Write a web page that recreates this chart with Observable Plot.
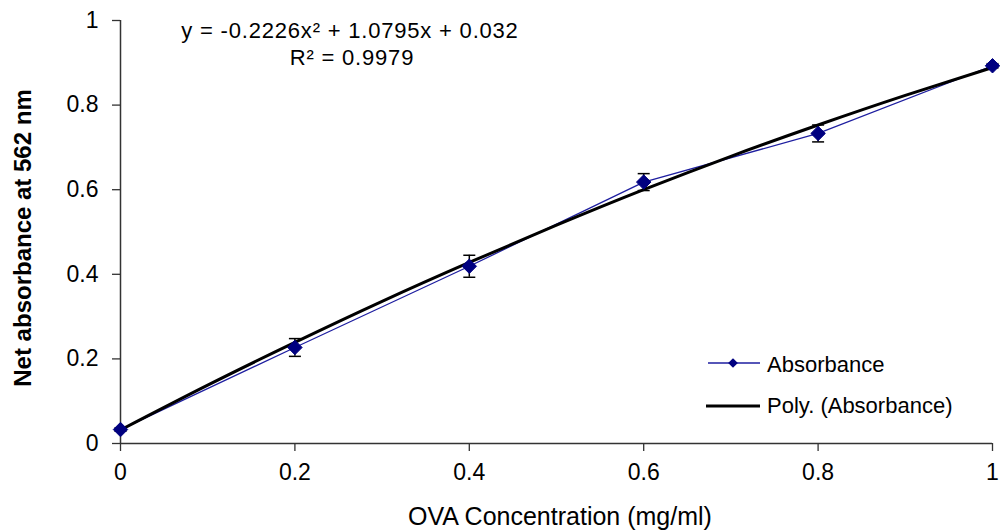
<!DOCTYPE html>
<html>
<head>
<meta charset="utf-8">
<script src="https://cdn.jsdelivr.net/npm/d3@7"></script>
<script src="https://cdn.jsdelivr.net/npm/@observablehq/plot@0.6"></script>
<style>
  html, body { margin: 0; padding: 0; background: #fff; }
  #chart { position: relative; width: 1000px; height: 530px; overflow: hidden; }
  svg { font-family: "Liberation Sans", Arial, sans-serif; }
</style>
</head>
<body>
<div id="chart"></div>
<script>
// ---- data ----
const concentration = [0, 0.2, 0.4, 0.6, 0.8, 1.0];
const absorbance    = [0.033, 0.227, 0.419, 0.618, 0.733, 0.893];
const errorSD       = [0.004, 0.021, 0.026, 0.020, 0.020, 0.005];

const trendX = [0, 0.1, 0.2, 0.3, 0.4, 0.5, 0.6, 0.7, 0.8, 0.9, 1.0];
const trendY = [0.032, 0.138, 0.239, 0.336, 0.428, 0.516, 0.600, 0.679, 0.753, 0.823, 0.889];

const xTicks = [0, 0.2, 0.4, 0.6, 0.8, 1];
const yTicks = [0, 0.2, 0.4, 0.6, 0.8, 1];

const xTitle = "OVA Concentration (mg/ml)";
const yTitle = "Net absorbance at 562 nm";
const equationText = "y = -0.2226x\u00B2 + 1.0795x + 0.032";
const r2Text = "R\u00B2 = 0.9979";
const seriesNames = ["Absorbance", "Poly. (Absorbance)"];

// ---- tables ----
const points = concentration.map((c, i) => ({x: c, y: absorbance[i], lo: absorbance[i] - errorSD[i], hi: absorbance[i] + errorSD[i]}));
const trend = trendX.map((x, i) => ({x, y: trendY[i]}));

const capSymbol = {
  draw(ctx, size) {
    const hw = Math.sqrt(size / Math.PI);
    ctx.moveTo(-hw, 0);
    ctx.lineTo(hw, 0);
  }
};

const blue = "#1e1ea0";
const navy = "#000080";
const axisColor = "#333";

const plot = Plot.plot({
  width: 1000,
  height: 530,
  marginLeft: 120,
  marginRight: 8,
  marginTop: 20,
  marginBottom: 87,
  style: {fontFamily: "Liberation Sans, Arial, sans-serif", fontSize: "23px", color: "#000", background: "#fff"},
  x: {domain: [0, 1]},
  y: {domain: [0, 1]},
  marks: [
    Plot.axisX({ticks: xTicks, tickFormat: d => String(d), tickSize: 8, tickPadding: 12, label: null, stroke: axisColor, strokeWidth: 1.3, fontSize: 23}),
    Plot.axisY({ticks: yTicks, tickFormat: d => String(d), tickSize: 8, tickPadding: 14, label: null, stroke: axisColor, strokeWidth: 1.3, fontSize: 23}),
    Plot.ruleX([0], {stroke: axisColor, strokeWidth: 1.5}),
    Plot.ruleY([0], {stroke: axisColor, strokeWidth: 1.5}),
    Plot.line(points, {x: "x", y: "y", stroke: blue, strokeWidth: 1.3}),
    Plot.line(trend, {x: "x", y: "y", stroke: "#000", strokeWidth: 3, curve: "natural"}),
    Plot.ruleX(points, {x: "x", y1: "lo", y2: "hi", stroke: "#000", strokeWidth: 1.5}),
    Plot.dot(points, {x: "x", y: "lo", symbol: capSymbol, r: 6, stroke: "#000", strokeWidth: 1.5, fill: "none"}),
    Plot.dot(points, {x: "x", y: "hi", symbol: capSymbol, r: 6, stroke: "#000", strokeWidth: 1.5, fill: "none"}),
    Plot.dot(points, {x: "x", y: "y", symbol: "diamond2", r: 6.5, fill: navy, stroke: navy, strokeWidth: 1})
  ]
});

document.getElementById("chart").appendChild(plot);

const svg = d3.select(plot);
const font = "Liberation Sans, Arial, sans-serif";

// axis titles
svg.append("text")
  .attr("transform", "translate(31,238) rotate(-90)")
  .attr("text-anchor", "middle")
  .attr("font-family", font)
  .attr("font-size", 24)
  .attr("font-weight", "bold")
  .attr("fill", "#000")
  .text(yTitle);

svg.append("text")
  .attr("x", 560).attr("y", 525)
  .attr("text-anchor", "middle")
  .attr("font-family", font)
  .attr("font-size", 25)
  .attr("fill", "#000")
  .text(xTitle);

// equation annotation
svg.append("text")
  .attr("x", 350).attr("y", 38)
  .attr("text-anchor", "middle")
  .attr("font-family", font)
  .attr("font-size", 22)
  .attr("letter-spacing", "0.8px")
  .attr("fill", "#000")
  .text(equationText);
svg.append("text")
  .attr("x", 352).attr("y", 65)
  .attr("text-anchor", "middle")
  .attr("font-family", font)
  .attr("font-size", 22)
  .attr("letter-spacing", "0.8px")
  .attr("fill", "#000")
  .text(r2Text);

// legend
const lg = svg.append("g").attr("text-anchor", "start");
lg.append("line").attr("x1", 708).attr("x2", 760).attr("y1", 363).attr("y2", 363).attr("stroke", blue).attr("stroke-width", 1.3);
lg.append("path").attr("d", d3.symbol(d3.symbolDiamond2, 60)()).attr("transform", "translate(733,363)").attr("fill", navy);
lg.append("text").attr("x", 767).attr("y", 372).attr("text-anchor", "start").attr("font-family", font).attr("font-size", 22).attr("fill", "#000").text(seriesNames[0]);
lg.append("line").attr("x1", 706).attr("x2", 760).attr("y1", 406).attr("y2", 406).attr("stroke", "#000").attr("stroke-width", 3);
lg.append("text").attr("x", 767).attr("y", 413).attr("text-anchor", "start").attr("font-family", font).attr("font-size", 22).attr("fill", "#000").text(seriesNames[1]);
</script>
</body>
</html>
